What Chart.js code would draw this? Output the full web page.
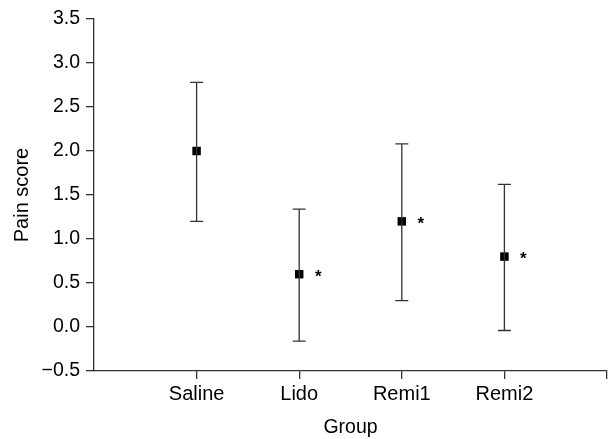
<!DOCTYPE html>
<html>
<head>
<meta charset="utf-8">
<script src="https://cdn.jsdelivr.net/npm/chart.js@4/dist/chart.umd.min.js"></script>
<style>
  html, body { margin: 0; padding: 0; background: #fff; }
  #wrap { width: 613px; height: 439px; }
</style>
</head>
<body>
<div id="wrap"><canvas id="painChart" width="613" height="439"></canvas></div>
<script>
// group names, position on x and values
const groups = ["Saline", "Lido", "Remi1", "Remi2"];
const groupPos = [1, 2, 3, 4];
const means = [2.0, 0.6, 1.2, 0.8];
const upper = [2.78, 1.34, 2.08, 1.62];
const lower = [1.2, -0.16, 0.3, -0.04];
const significant = [false, true, true, true];
const yTicks = [-0.5, 0, 0.5, 1, 1.5, 2, 2.5, 3, 3.5];
const xTicks = [1, 2, 3, 4, 5];

const axisColor = "#333";
const fontFamily = "'Liberation Sans', Arial, sans-serif";

// error bars + asterisks, drawn through the chart scales
const errorBars = {
  id: "errorBars",
  afterDatasetsDraw(chart) {
    const { ctx, scales: { x, y } } = chart;
    ctx.save();
    ctx.strokeStyle = axisColor;
    ctx.lineWidth = 1.3;
    groupPos.forEach((g, i) => {
      const px = x.getPixelForValue(g);
      const top = y.getPixelForValue(upper[i]);
      const bot = y.getPixelForValue(lower[i]);
      ctx.beginPath();
      ctx.moveTo(px, top); ctx.lineTo(px, bot);
      ctx.moveTo(px - 6.5, top); ctx.lineTo(px + 6.5, top);
      ctx.moveTo(px - 6.5, bot); ctx.lineTo(px + 6.5, bot);
      ctx.stroke();
      if (significant[i]) {
        ctx.fillStyle = "#000";
        ctx.font = "bold 17px " + fontFamily;
        ctx.textAlign = "center";
        ctx.textBaseline = "middle";
        ctx.fillText("*", px + 19, y.getPixelForValue(means[i]) + 3);
      }
    });
    ctx.restore();
  }
};

new Chart(document.getElementById("painChart"), {
  type: "scatter",
  data: {
    datasets: [{
      data: groupPos.map((g, i) => ({ x: g, y: means[i] })),
      pointStyle: "rect",
      pointRadius: 6,
      pointHoverRadius: 6,
      backgroundColor: "#000",
      borderWidth: 0
    }]
  },
  options: {
    responsive: false,
    animation: false,
    layout: { padding: { top: 19, right: 6, left: 0, bottom: 0 } },
    plugins: { legend: { display: false }, tooltip: { enabled: false } },
    scales: {
      x: {
        type: "linear",
        min: 0,
        max: 5,
        afterBuildTicks: (scale) => { scale.ticks = xTicks.map(v => ({ value: v })); },
        afterFit: (scale) => { scale.height = 68; },
        border: { display: true, color: axisColor, width: 1.3 },
        grid: { drawOnChartArea: false, drawTicks: true, tickLength: 8, color: axisColor, lineWidth: 1.3 },
        ticks: {
          color: "#000",
          font: { family: fontFamily, size: 20 },
          padding: 3,
          maxRotation: 0,
          callback: (v) => groups[groupPos.indexOf(v)] || ""
        },
        title: { display: true, text: "Group", color: "#000", font: { family: fontFamily, size: 19.5 }, padding: { top: 0, bottom: 0 } }
      },
      y: {
        min: -0.5,
        max: 3.5,
        afterBuildTicks: (scale) => { scale.ticks = yTicks.map(v => ({ value: v })); },
        afterFit: (scale) => { scale.width = 94; },
        border: { display: true, color: axisColor, width: 1.3 },
        grid: { drawOnChartArea: false, drawTicks: true, tickLength: 8, color: axisColor, lineWidth: 1.3 },
        ticks: {
          color: "#000",
          font: { family: fontFamily, size: 19.5 },
          padding: 6,
          callback: (v) => v < 0 ? "\u2212" + Math.abs(v).toFixed(1) : v.toFixed(1)
        },
        title: { display: true, text: "Pain score", color: "#000", font: { family: fontFamily, size: 20 }, padding: { top: 10, bottom: 0 } }
      }
    }
  },
  plugins: [errorBars]
});
</script>
</body>
</html>
